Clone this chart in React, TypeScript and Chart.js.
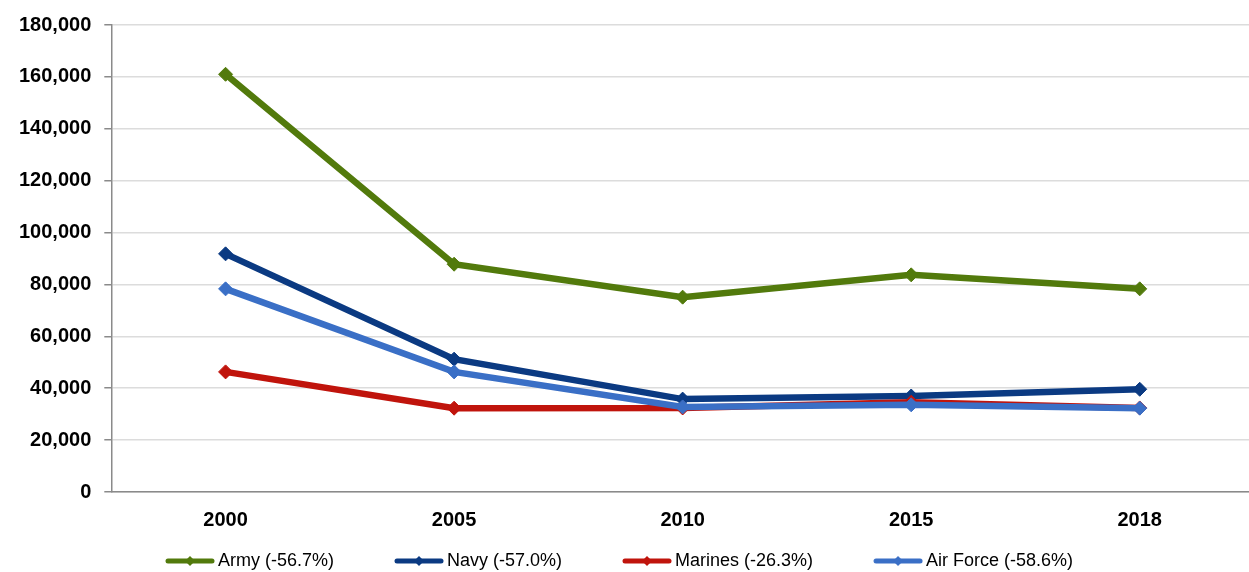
import React, { useEffect, useRef } from "react";
import { Chart, registerables } from "chart.js";

Chart.register(...registerables);

const years = ["2000", "2005", "2010", "2015", "2018"];
const army = [161000, 87800, 75100, 83700, 78300];
const navy = [91800, 51200, 35800, 37000, 39600];
const marines = [46300, 32300, 32400, 34600, 32400];
const airForce = [78300, 46300, 32800, 33600, 32300];
const seriesNames = ["Army (-56.7%)", "Navy (-57.0%)", "Marines (-26.3%)", "Air Force (-58.6%)"];
const seriesColors = ["#527A0C", "#0B3A82", "#C0140C", "#3A6FC6"];

const ICON_BOX = 100; // legend box width (includes left spacing)
const LEGEND_SHIFT = -43;

function legendIcon(color: string): HTMLCanvasElement {
  const W = ICON_BOX + 12;
  const c = document.createElement("canvas");
  c.width = W;
  c.height = 16;
  const ctx = c.getContext("2d")!;
  const x0 = W - 50;
  ctx.strokeStyle = color;
  ctx.lineWidth = 5;
  ctx.lineCap = "round";
  ctx.beginPath();
  ctx.moveTo(x0 + 3, 8);
  ctx.lineTo(W - 3, 8);
  ctx.stroke();
  ctx.fillStyle = color;
  const cx = x0 + 25;
  ctx.beginPath();
  ctx.moveTo(cx, 3);
  ctx.lineTo(cx + 5, 8);
  ctx.lineTo(cx, 13);
  ctx.lineTo(cx - 5, 8);
  ctx.closePath();
  ctx.fill();
  return c;
}

const legendShiftPlugin = {
  id: "legendShift",
  afterLayout(chart: any) {
    const lg = chart.legend;
    if (lg) {
      lg.left += LEGEND_SHIFT;
      lg.right += LEGEND_SHIFT;
    }
  },
};

export default function App() {
  const ref = useRef<HTMLCanvasElement>(null);
  useEffect(() => {
    if (!ref.current) return;
    const values = [army, navy, marines, airForce];
    const chart = new Chart(ref.current, {
      type: "line",
      data: {
        labels: years,
        datasets: values.map((v, i) => ({
          label: seriesNames[i],
          data: v,
          borderColor: seriesColors[i],
          backgroundColor: seriesColors[i],
          pointBackgroundColor: seriesColors[i],
          pointBorderColor: seriesColors[i],
          pointBorderWidth: 1,
          borderWidth: 6.5,
          pointStyle: "rectRot",
          pointRadius: 7,
          pointHoverRadius: 7,
          tension: 0,
          order: 3 - i,
        })),
      },
      plugins: [legendShiftPlugin],
      options: {
        animation: false,
        responsive: false,
        maintainAspectRatio: false,
        layout: { padding: { top: 12, left: 6, right: 0, bottom: -8 } },
        plugins: {
          tooltip: { enabled: false },
          legend: {
            position: "bottom",
            labels: {
              usePointStyle: true,
              pointStyleWidth: ICON_BOX,
              boxHeight: 16,
              padding: 4,
              color: "#000",
              font: { family: "'Liberation Sans', Arial, sans-serif", size: 18 },
              generateLabels: (ch: any) =>
                ch.data.datasets.map((ds: any, i: number) => ({
                  text: ds.label,
                  fillStyle: seriesColors[i],
                  strokeStyle: seriesColors[i],
                  lineWidth: 0,
                  pointStyle: legendIcon(seriesColors[i]),
                  datasetIndex: i,
                  hidden: false,
                  fontColor: "#000",
                })),
            },
          },
        },
        scales: {
          x: {
            type: "category",
            offset: true,
            grid: { display: false, drawTicks: false },
            border: { display: true, color: "#8a8a8a", width: 1.5 },
            ticks: {
              color: "#000",
              padding: 16,
              font: { family: "'Liberation Sans', Arial, sans-serif", size: 20, weight: "bold" },
            },
          },
          y: {
            min: 0,
            max: 180000,
            grid: { color: "#dcdcdc", lineWidth: 1.5, tickLength: 7, tickColor: "#8a8a8a" },
            border: { display: true, color: "#8a8a8a", width: 1.5 },
            ticks: {
              stepSize: 20000,
              color: "#000",
              padding: 13,
              font: { family: "'Liberation Sans', Arial, sans-serif", size: 20, weight: "bold" },
              callback: (v: any) => Number(v).toLocaleString("en-US"),
            },
          },
        },
      },
    });
    return () => chart.destroy();
  }, []);
  return (
    <div style={{ position: "fixed", left: 0, top: 0, width: 1249, height: 572, overflow: "hidden", background: "#fff" }}>
      <canvas ref={ref} width={1262} height={572} style={{ width: 1262, height: 572, display: "block" }} />
    </div>
  );
}
